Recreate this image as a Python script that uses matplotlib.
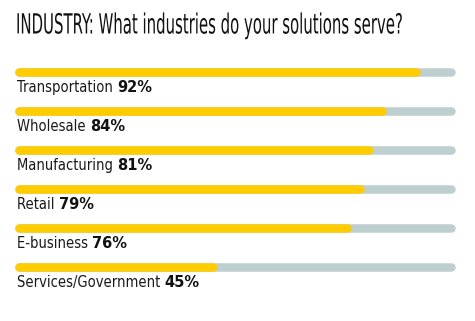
import matplotlib
matplotlib.use("Agg")
import matplotlib.pyplot as plt
from matplotlib import patheffects
from matplotlib.transforms import Affine2D

# ── Data ──────────────────────────────────────────────────────────────────
industries = ["Transportation", "Wholesale", "Manufacturing", "Retail",
              "E-business", "Services/Government"]
shares     = [92, 84, 81, 79, 76, 45]
title      = "INDUSTRY: What industries do your solutions serve?"

YELLOW = "#FFCC00"
GRAY   = "#BDCFCF"

W, H, DPI = 475, 321, 100


class Stretch(patheffects.AbstractPathEffect):
    """Scale glyphs about (x0, y0) in display px - fakes a tall condensed face."""
    def __init__(self, sx, sy, x0, y0):
        super().__init__()
        self.tr = Affine2D().translate(-x0, -y0).scale(sx, sy).translate(x0, y0)

    def draw_path(self, renderer, gc, tpath, affine, rgbFace=None):
        renderer.draw_path(gc, tpath, affine + self.tr, rgbFace)


fig = plt.figure(figsize=(W / DPI, H / DPI), dpi=DPI, facecolor="white")

# axes placed in pixel terms: bars span x 19..451 (round caps add 4px each side)
left_px, right_px = 19, 451
top_px, step_px = 71.5, 39
n = len(industries)
ax_top = top_px - step_px / 2
ax_bot = top_px + step_px * (n - 0.5)
ax = fig.add_axes([left_px / W, 1 - ax_bot / H,
                   (right_px - left_px) / W, (ax_bot - ax_top) / H])
ax.set_xlim(0, 100)
ax.set_ylim(n - 0.5, -0.5)
ax.axis("off")

lw = 8.5 * 72 / DPI
for i, (name, val) in enumerate(zip(industries, shares)):
    ax.plot([0, 100], [i, i], color=GRAY, lw=lw, solid_capstyle="round",
            clip_on=False)
    ax.plot([0, val], [i, i], color=YELLOW, lw=lw, solid_capstyle="round",
            clip_on=False)
    t = ax.annotate(name + " ", xy=(0, i), xytext=(-1.5, -11.5),
                    textcoords="offset points", ha="left", va="center",
                    fontsize=10.5, color="#1a1a1a", family="DejaVu Sans",
                    fontstretch="condensed")
    ax.annotate(f"{val}%", xy=(1, 0), xycoords=t, ha="left", va="bottom",
                fontsize=10.5, fontweight="heavy", color="#111111",
                family="DejaVu Sans")

# headline: ~388px wide, then stretched up to a 20pt-tall condensed look
title_x, title_base = 16, 33.5
ttl = fig.text(title_x / W, 1 - title_base / H, title, ha="left",
               va="baseline", fontsize=20, color="#111111",
               family="DejaVu Sans", fontstretch="condensed")
renderer = fig.canvas.get_renderer()
fs = 20
while ttl.get_window_extent(renderer).width > 388 and fs > 6:
    fs -= 0.1
    ttl.set_fontsize(fs)
sx = 388 / ttl.get_window_extent(renderer).width
ttl.set_path_effects([Stretch(sx, 20 / fs, title_x, H - title_base)])

fig.savefig("out.png", dpi=DPI, facecolor="white")
